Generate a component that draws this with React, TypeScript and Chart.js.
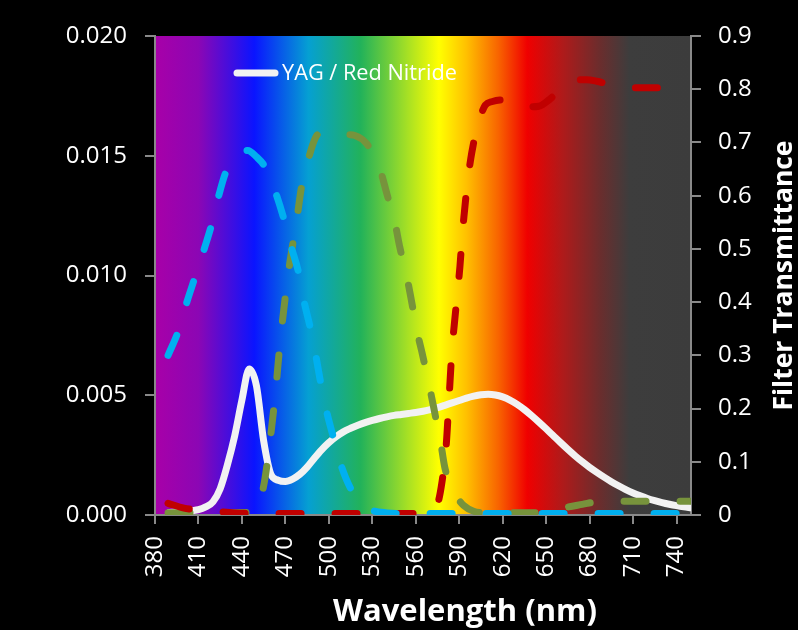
import React, { useEffect, useRef } from "react";
import { Chart, registerables } from "chart.js";

Chart.register(...registerables);

// ---------- data ----------
const xTickValues = [380, 410, 440, 470, 500, 530, 560, 590, 620, 650, 680, 710, 740];

const seriesName = "YAG / Red Nitride";
const xTitle = "Wavelength (nm)";
const y1Title = "Filter Transmittance";

// White spectrum (left axis), every 5 nm from 390 to 750
const spectrumWl = [
  390, 395, 400, 405, 410, 415, 420, 425, 430, 435, 440, 445, 450, 455, 460, 465, 470, 475, 480, 485, 490,
  495, 500, 505, 510, 515, 520, 525, 530, 535, 540, 545, 550, 555, 560, 565, 570, 575, 580, 585, 590, 595,
  600, 605, 610, 615, 620, 625, 630, 635, 640, 645, 650, 655, 660, 665, 670, 675, 680, 685, 690, 695, 700,
  705, 710, 715, 720, 725, 730, 735, 740, 745, 750,
];
const spectrumVal = [
  0.0001, 0.00012, 0.00014, 0.00018, 0.00022, 0.00034, 0.00055, 0.0011, 0.0021, 0.0033, 0.0048, 0.0061,
  0.0054, 0.0031, 0.0017, 0.00145, 0.0014, 0.0015, 0.0017, 0.002, 0.00237, 0.00272, 0.00302, 0.00327,
  0.00347, 0.00362, 0.00375, 0.00386, 0.00395, 0.00403, 0.0041, 0.00416, 0.0042, 0.00424, 0.00428,
  0.00433, 0.0044, 0.00448, 0.00458, 0.00468, 0.00478, 0.00488, 0.00496, 0.00502, 0.00504, 0.00501,
  0.00493, 0.0048, 0.00462, 0.0044, 0.00415, 0.00388, 0.0036, 0.00331, 0.00302, 0.00274, 0.00247,
  0.00222, 0.00199, 0.00178, 0.00158, 0.00139, 0.00122, 0.00106, 0.00092, 0.0008, 0.00069, 0.0006,
  0.00052, 0.00045, 0.00039, 0.00034, 0.0003,
];

// Blue filter (right axis)
const blueWl = [
  389, 396, 402, 408, 414, 419, 424, 429, 435, 440, 444, 450, 456, 460, 464, 469, 474, 479, 483, 487, 491,
  494, 498, 503, 508, 515, 522, 529, 540, 550, 600, 650, 700, 750,
];
const blueT = [
  0.3, 0.345, 0.4, 0.45, 0.5, 0.545, 0.6, 0.645, 0.67, 0.683, 0.685, 0.673, 0.654, 0.63, 0.6, 0.556, 0.504,
  0.457, 0.4, 0.354, 0.3, 0.254, 0.2, 0.147, 0.097, 0.05, 0.025, 0.01, 0.004, 0.003, 0.003, 0.003, 0.003,
  0.003,
];

// Green filter (right axis)
const greenWl = [
  389, 420, 445, 450, 453, 456, 459, 462, 464, 465.5, 468.6, 473, 475, 478.5, 481, 486, 491, 496, 505, 512,
  518, 526, 531, 535.5, 540, 545.7, 549, 553.8, 557.2, 560.7, 565, 570, 574, 577, 580, 584, 588, 593, 600,
  610, 640, 655, 665, 675, 685, 695, 750,
];
const greenT = [
  0.004, 0.004, 0.005, 0.01, 0.03, 0.07, 0.13, 0.2, 0.254, 0.3, 0.379, 0.473, 0.507, 0.567, 0.614, 0.67,
  0.71, 0.72, 0.718, 0.715, 0.713, 0.698, 0.675, 0.648, 0.604, 0.548, 0.503, 0.448, 0.4, 0.348, 0.297,
  0.234, 0.18, 0.14, 0.09, 0.055, 0.035, 0.018, 0.007, 0.004, 0.004, 0.008, 0.015, 0.02, 0.025, 0.026,
  0.026,
];

// Red filter (right axis)
const redWl = [
  389, 400, 410, 420, 435, 450, 470, 500, 540, 560, 570, 575, 578, 581, 583, 585, 586.5, 588.7, 590.5, 592,
  593.5, 595.6, 598, 600, 602, 605, 608, 613, 620, 628, 634, 639, 645, 652, 658, 664, 671, 678, 685, 692,
  700, 710, 750,
];
const redT = [
  0.022, 0.013, 0.009, 0.007, 0.004, 0.003, 0.003, 0.003, 0.003, 0.003, 0.005, 0.02, 0.06, 0.13, 0.22,
  0.31, 0.355, 0.416, 0.467, 0.523, 0.567, 0.623, 0.67, 0.7, 0.727, 0.752, 0.77, 0.777, 0.78, 0.778, 0.772,
  0.767, 0.768, 0.78, 0.795, 0.808, 0.817, 0.818, 0.815, 0.81, 0.804, 0.803, 0.803,
];

// Background spectrum gradient (wavelength stops and colours)
const gradWl = [380, 410, 448.5, 486, 522, 576, 595, 617, 637, 661, 687, 707.5, 750];
const gradColors = [
  "#a800a8", "#8c06b4", "#0a14ff", "#05a0d2", "#22b25a", "#ffff00", "#ffc000", "#f86400", "#f00000",
  "#b01a1a", "#6b2d2d", "#3d3d3d", "#3c3c3c",
];

const zip = (xs: number[], ys: number[]) => xs.map((x, i) => ({ x, y: ys[i] }));

const FONT = "'Open Sans', 'DejaVu Sans', sans-serif";

function fitSize(ctx: CanvasRenderingContext2D, text: string, weight: string, target: number, base: number) {
  ctx.font = `${weight} ${base}px ${FONT}`;
  const w = ctx.measureText(text).width;
  if (!w) return base;
  return Math.max(base * 0.8, Math.min(base * 1.25, (base * target) / w));
}

const decorPlugin = {
  id: "decor",
  beforeDraw(chart: any) {
    const { ctx, chartArea: a, scales } = chart;
    ctx.save();
    const g = ctx.createLinearGradient(a.left, 0, a.right, 0);
    gradWl.forEach((w, i) => {
      const f = (scales.x.getPixelForValue(w) - a.left) / (a.right - a.left);
      g.addColorStop(Math.min(1, Math.max(0, f)), gradColors[i]);
    });
    ctx.fillStyle = g;
    ctx.fillRect(a.left, a.top, a.right - a.left, a.bottom - a.top);
    ctx.restore();
  },
  afterDraw(chart: any) {
    const { ctx, chartArea: a } = chart;
    ctx.save();
    // legend
    const ly = a.top + 37;
    ctx.strokeStyle = "#f2f2f2";
    ctx.lineWidth = 7;
    ctx.lineCap = "round";
    ctx.beginPath();
    ctx.moveTo(a.left + 82, ly);
    ctx.lineTo(a.left + 120, ly);
    ctx.stroke();
    const ls = fitSize(ctx, seriesName, "normal", 175, 22);
    ctx.font = `normal ${ls}px ${FONT}`;
    ctx.fillStyle = "#ffffff";
    ctx.textAlign = "left";
    ctx.textBaseline = "middle";
    ctx.fillText(seriesName, a.left + 127, ly + 1);

    // x title
    const xs = fitSize(ctx, xTitle, "bold", 264, 29);
    ctx.font = `bold ${xs}px ${FONT}`;
    ctx.textAlign = "center";
    ctx.textBaseline = "middle";
    ctx.fillText(xTitle, a.left + 310, a.bottom + 97);

    // right y title
    const ys = fitSize(ctx, y1Title, "bold", 270, 26);
    ctx.font = `bold ${ys}px ${FONT}`;
    ctx.translate(784, (a.top + a.bottom) / 2);
    ctx.rotate(-Math.PI / 2);
    ctx.textAlign = "center";
    ctx.textBaseline = "middle";
    ctx.fillText(y1Title, 0, 0);
    ctx.restore();
  },
};

export default function App() {
  const ref = useRef<HTMLCanvasElement | null>(null);

  useEffect(() => {
    if (!ref.current) return;
    Chart.defaults.font.family = FONT;
    const axisColor = "#898989";
    const filterDash = [22, 34];
    const filterStyle = {
      yAxisID: "y1",
      borderWidth: 7,
      borderDash: filterDash,
      borderCapStyle: "round",
      pointRadius: 0,
      cubicInterpolationMode: "monotone",
    };
    const chart = new Chart(ref.current, {
      type: "line",
      data: {
        datasets: [
          { ...filterStyle, label: "Blue filter", data: zip(blueWl, blueT), borderColor: "#00b0f0", order: 1 },
          { ...filterStyle, label: "Red filter", data: zip(redWl, redT), borderColor: "#c00000", order: 2 },
          { ...filterStyle, label: "Green filter", data: zip(greenWl, greenT), borderColor: "#77933c", order: 3 },
          {
            label: seriesName,
            data: zip(spectrumWl, spectrumVal),
            yAxisID: "y",
            borderColor: "#f2f2f2",
            borderWidth: 7,
            borderCapStyle: "round",
            borderJoinStyle: "round",
            pointRadius: 0,
            cubicInterpolationMode: "monotone",
            order: 4,
          },
        ],
      } as any,
      options: {
        responsive: false,
        animation: false,
        devicePixelRatio: 1,
        layout: { padding: { top: 36, left: 0, right: 0, bottom: 0 } },
        plugins: { legend: { display: false }, tooltip: { enabled: false } },
        scales: {
          x: {
            type: "linear",
            min: 380,
            max: 750,
            afterBuildTicks: (scale: any) => {
              scale.ticks = xTickValues.map((v) => ({ value: v }));
            },
            afterFit: (scale: any) => {
              scale.height = 115;
            },
            ticks: {
              color: "#ffffff",
              font: { size: 24 },
              minRotation: 90,
              maxRotation: 90,
              autoSkip: false,
              padding: 12,
              callback: (v: any) => String(v),
            },
            grid: { drawOnChartArea: false, drawTicks: true, tickLength: 9, color: axisColor, lineWidth: 2 },
            border: { display: true, color: axisColor, width: 2 },
          },
          y: {
            type: "linear",
            position: "left",
            min: 0,
            max: 0.02,
            afterFit: (scale: any) => {
              scale.width = 155;
            },
            ticks: {
              stepSize: 0.005,
              color: "#ffffff",
              font: { size: 24 },
              padding: 18,
              callback: (v: any) => Number(v).toFixed(3),
            },
            grid: { drawOnChartArea: false, drawTicks: true, tickLength: 10, color: axisColor, lineWidth: 2 },
            border: { display: true, color: axisColor, width: 2 },
          },
          y1: {
            type: "linear",
            position: "right",
            min: 0,
            max: 0.9,
            afterFit: (scale: any) => {
              scale.width = 107;
            },
            ticks: {
              stepSize: 0.1,
              color: "#ffffff",
              font: { size: 24 },
              padding: 17,
              callback: (v: any) => (Math.abs(Number(v)) < 1e-9 ? "0" : Number(v).toFixed(1)),
            },
            grid: { drawOnChartArea: false, drawTicks: true, tickLength: 10, color: axisColor, lineWidth: 2 },
            border: { display: true, color: axisColor, width: 2 },
          },
        },
      } as any,
      plugins: [decorPlugin],
    });
    return () => chart.destroy();
  }, []);

  return (
    <div style={{ position: "fixed", left: 0, top: 0, width: 798, height: 630, background: "#000" }}>
      <canvas ref={ref} width={798} height={630} style={{ display: "block", width: 798, height: 630 }} />
    </div>
  );
}
